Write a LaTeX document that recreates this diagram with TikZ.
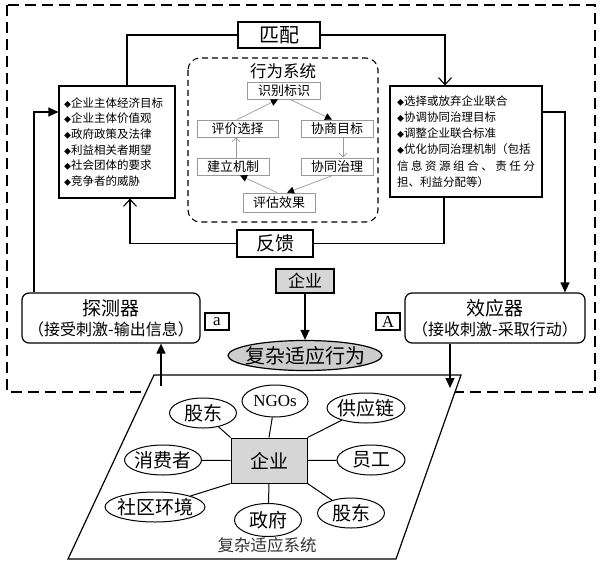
\documentclass[tikz,border=0pt]{standalone}
\usepackage{fontspec}
\setmainfont{Noto Sans CJK SC}
\newfontfamily\latfont{Liberation Serif}
\usetikzlibrary{arrows.meta,shapes.geometric}
\definecolor{qygray}{HTML}{D6D6D6}
\definecolor{xwgray}{HTML}{CDCDCD}
\definecolor{innergray}{HTML}{9A9A9A}
\newcommand\dm{{\fontsize{7}{7}\selectfont ◆}}

\begin{document}
\begin{tikzpicture}[x=1pt, y=-1pt, line width=1.2pt,
  >={Triangle[length=10pt, width=9pt]},
  barb/.style={-{Straight Barb[length=7pt, width=13pt, line width=1.1pt]}},
  framebox/.style={draw, rectangle, inner sep=0pt},
  innerbox/.style={draw=innergray, line width=0.8pt, minimum height=17pt, inner sep=0pt, font=\fontsize{13}{13}\selectfont},
  innerarrow/.style={draw=innergray, line width=0.7pt, -{Triangle[length=7pt, width=7pt, color=black]}},
  innerbarb/.style={draw=innergray, line width=0.7pt, -{Straight Barb[length=4pt, width=8pt]}},
  eco/.style={draw, ellipse, line width=1pt, minimum height=30pt, inner xsep=-3pt, inner ysep=0pt, font=\fontsize{19}{19}\selectfont},
  tag/.style={framebox, minimum width=24pt, minimum height=17pt, font=\latfont\fontsize{17}{17}\selectfont}]
  \useasboundingbox (0,0) rectangle (604,575);
  % outer frame
  \draw[line width=1.8pt, dash pattern=on 11pt off 6pt] (7,5) rectangle (595,392);
  % matching / feedback loop
  \node[framebox, minimum width=82pt, minimum height=26pt, font=\fontsize{20}{20}\selectfont] (pipei) at (279,35) {匹配};
  \node[framebox, minimum width=76pt, minimum height=27pt, font=\fontsize{19}{19}\selectfont] (fankui) at (275,243.5) {反馈};
  \node[framebox, text width=106pt, inner xsep=5pt, minimum height=112pt, align=left, font=\fontsize{11.5}{15.7}\selectfont] (mubiao) at (117,142)
    {\dm 企业主体经济目标\\ \dm 企业主体价值观\\ \dm 政府政策及法律\\ \dm 利益相关者期望\\ \dm 社会团体的要求\\ \dm 竞争者的威胁};
  \node[framebox, text width=138pt, inner xsep=7pt, minimum height=111pt, align=left, font=\fontsize{11.5}{16.2}\selectfont] (celue) at (466,141.5)
    {\dm 选择或放弃企业联合\\ \dm 协调协同治理目标\\ \dm 调整企业联合标准\\ \dm 优化协同治理机制（包括\\
     \makebox[\linewidth]{信\hfill 息\hfill 资\hfill 源\hfill 组\hfill 合\hfill 、\hfill 责\hfill 任\hfill 分}\\ 担、利益分配等）};
  \draw (pipei.west) -| ([xshift=10pt]mubiao.north);
  \draw[barb] (pipei.east) -| ([xshift=-21pt]celue.north);
  \draw[barb] (fankui.west) -| ([xshift=13pt]mubiao.south);
  \draw (fankui.east) -| ([xshift=-22pt]celue.south);
  % behaviour system
  \draw[line width=1.1pt, dash pattern=on 6pt off 4pt, rounded corners=12pt] (188,58) rectangle (378,222);
  \node[font=\fontsize{16.5}{16.5}\selectfont] (xwxt) at (283,71) {行为系统};
  \node[innerbox, minimum width=73pt] (sbbs) at (284,90.5) {识别标识};
  \node[innerbox, minimum width=81pt] (pjxz) at (237.5,128.5) {评价选择};
  \node[innerbox, minimum width=72pt] (xsmb) at (337,128.5) {协商目标};
  \node[innerbox, minimum width=72pt] (jljz) at (233,166.5) {建立机制};
  \node[innerbox, minimum width=72pt] (xtzl) at (337,166.5) {协同治理};
  \node[innerbox, minimum width=72pt, minimum height=19pt] (pgxg) at (279,202.5) {评估效果};
  \draw[innerarrow] ([xshift=-0.5pt]pjxz.north) -- ([xshift=-6pt]sbbs.south);
  \draw[innerarrow] ([xshift=6pt]sbbs.south) -- ([xshift=-5pt]xsmb.north);
  \draw[innerbarb] ([xshift=6pt]xsmb.south) -- ([xshift=6pt]xtzl.north);
  \draw[innerarrow] ([xshift=-4pt]xtzl.south) -- ([xshift=8pt]pgxg.north);
  \draw[innerarrow] ([xshift=-2pt]pgxg.north) -- ([xshift=7pt]jljz.south);
  \draw[innerbarb] ([xshift=3pt]jljz.north) -- ([xshift=-1.5pt]pjxz.south);
  % detector and effector
  \node[framebox, rounded corners=7pt, minimum width=178pt, minimum height=50pt, align=center, font=\fontsize{16}{20}\selectfont] (tance) at (111,318)
    {{\fontsize{19}{19}\selectfont 探测器}\\（接受刺激-输出信息）};
  \node[framebox, rounded corners=7pt, minimum width=180pt, minimum height=50pt, align=center, font=\fontsize{16}{20}\selectfont] (xiaoying) at (495,318)
    {{\fontsize{19}{19}\selectfont 效应器}\\（接收刺激-采取行动）};
  \node[tag] (taga) at (217,321.5) {a};
  \node[tag] (tagA) at (388,321.5) {A};
  \draw[->] ([xshift=-77pt]tance.north) |- ([yshift=30pt]mubiao.west);
  \draw[->] ([yshift=29.5pt]celue.east) -| ([xshift=70pt]xiaoying.north);
  % firm and complex adaptive behaviour
  \node[framebox, fill=qygray, minimum width=58pt, minimum height=24pt, font=\fontsize{17}{17}\selectfont] (qiye0) at (305,281) {企业};
  \node[draw, ellipse, fill=xwgray, minimum width=154pt, minimum height=30pt, inner xsep=-6pt, inner ysep=0pt, font=\fontsize{20}{20}\selectfont] (xingwei) at (305,355.5) {复杂适应行为};
  \draw[->] (qiye0) -- (xingwei);
  % complex adaptive system
  \draw[fill=white] (154,375) -- (461,375) -- (396,559) -- (68,559) -- cycle;
  \coordinate (sysin) at (161,386);
  \coordinate (sysout) at (450,388);
  \draw[->] (sysin) -- (sysin |- tance.south);
  \draw[->] (sysout |- xiaoying.south) -- (sysout);
  \node[framebox, fill=qygray, line width=1pt, minimum width=76pt, minimum height=45pt, font=\fontsize{19}{19}\selectfont] (qiye) at (269,460.5) {企业};
  \node[eco, minimum width=67pt] (gudong1) at (203,413) {股东};
  \node[eco, minimum width=66pt, minimum height=32pt, font=\latfont\fontsize{17}{17}\selectfont] (ngos) at (275,401) {NGOs};
  \node[eco, minimum width=78pt] (gongying) at (366,408) {供应链};
  \node[eco, minimum width=77pt] (xiaofei) at (163,460) {消费者};
  \node[eco, minimum width=68pt] (yuangong) at (371,460) {员工};
  \node[eco, minimum width=100pt] (shequ) at (155,507) {社区环境};
  \node[eco, minimum width=67pt, minimum height=33pt] (zhengfu) at (268,520) {政府};
  \node[eco, minimum width=67pt] (gudong2) at (351,513) {股东};
  \node[font=\fontsize{16.5}{16.5}\selectfont, text=black!80] (fzxt) at (267,545) {复杂适应系统};
  \draw[line width=1pt] (qiye.north west) -- (gudong1);
  \draw[line width=1pt] (qiye.north) -- (ngos);
  \draw[line width=1pt] (qiye.north east) -- (gongying);
  \draw[line width=1pt] (qiye.west) -- (xiaofei);
  \draw[line width=1pt] (qiye.east) -- (yuangong);
  \draw[line width=1pt] (qiye.south west) -- (shequ);
  \draw[line width=1pt] (qiye.south) -- (zhengfu);
  \draw[line width=1pt] (qiye.south east) -- (gudong2);
\end{tikzpicture}
\end{document}
